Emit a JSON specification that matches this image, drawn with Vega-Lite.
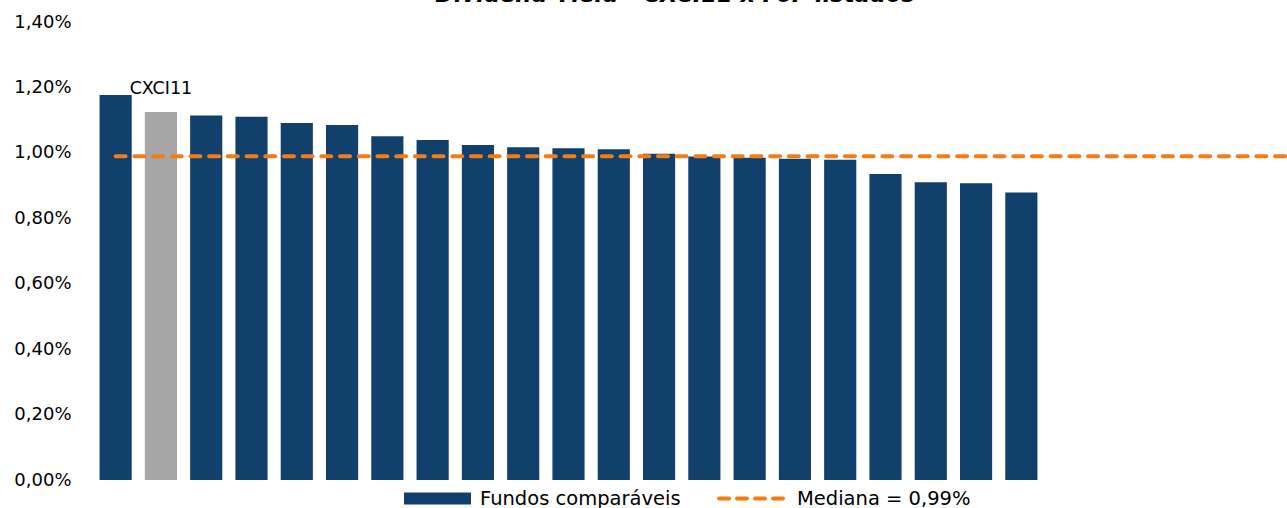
{
  "$schema": "https://vega.github.io/schema/vega-lite/v6.json",
  "autosize": "none",
  "width": 1194,
  "height": 458,
  "padding": {"left": 93, "top": 22, "right": 0, "bottom": 28},
  "background": "white",
  "config": {"view": {"stroke": null}, "font": "DejaVu Sans"},
  "title": {
    "text": "Dividend Yield - CXCI11 x FoF listados",
    "font": "DejaVu Sans",
    "fontSize": 22.5,
    "fontWeight": "bold",
    "fontStyle": "italic",
    "color": "#000000",
    "anchor": "middle",
    "baseline": "alphabetic",
    "offset": 0,
    "dy": 11,
    "dx": -15
  },
  "datasets": {
    "fundos": [
      {"fundo": "FoF 1", "tipo": "Fundos comparáveis", "dy": 1.177},
      {"fundo": "CXCI11", "tipo": "CXCI11", "dy": 1.125},
      {"fundo": "FoF 3", "tipo": "Fundos comparáveis", "dy": 1.114},
      {"fundo": "FoF 4", "tipo": "Fundos comparáveis", "dy": 1.110},
      {"fundo": "FoF 5", "tipo": "Fundos comparáveis", "dy": 1.091},
      {"fundo": "FoF 6", "tipo": "Fundos comparáveis", "dy": 1.085},
      {"fundo": "FoF 7", "tipo": "Fundos comparáveis", "dy": 1.051},
      {"fundo": "FoF 8", "tipo": "Fundos comparáveis", "dy": 1.039},
      {"fundo": "FoF 9", "tipo": "Fundos comparáveis", "dy": 1.024},
      {"fundo": "FoF 10", "tipo": "Fundos comparáveis", "dy": 1.017},
      {"fundo": "FoF 11", "tipo": "Fundos comparáveis", "dy": 1.014},
      {"fundo": "FoF 12", "tipo": "Fundos comparáveis", "dy": 1.011},
      {"fundo": "FoF 13", "tipo": "Fundos comparáveis", "dy": 0.997},
      {"fundo": "FoF 14", "tipo": "Fundos comparáveis", "dy": 0.989},
      {"fundo": "FoF 15", "tipo": "Fundos comparáveis", "dy": 0.985},
      {"fundo": "FoF 16", "tipo": "Fundos comparáveis", "dy": 0.982},
      {"fundo": "FoF 17", "tipo": "Fundos comparáveis", "dy": 0.979},
      {"fundo": "FoF 18", "tipo": "Fundos comparáveis", "dy": 0.935},
      {"fundo": "FoF 19", "tipo": "Fundos comparáveis", "dy": 0.910},
      {"fundo": "FoF 20", "tipo": "Fundos comparáveis", "dy": 0.907},
      {"fundo": "FoF 21", "tipo": "Fundos comparáveis", "dy": 0.879}
    ],
    "mediana": [
      {"fundo": "FoF 1", "serie": "Mediana = 0,99%", "mediana": 0.99}
    ]
  },
  "layer": [
    {
      "data": {"name": "fundos"},
      "mark": {"type": "bar"},
      "encoding": {
        "x": {
          "field": "fundo", "type": "nominal", "sort": null,
          "scale": {"range": [0, 951], "paddingInner": 0.29, "paddingOuter": 0.145},
          "axis": null
        },
        "y": {
          "field": "dy", "type": "quantitative",
          "scale": {"domain": [0, 1.4], "nice": false},
          "axis": {
            "values": [0, 0.2, 0.4, 0.6, 0.8, 1.0, 1.2, 1.4],
            "labelExpr": "replace(format(datum.value, '.2f'), '.', ',') + '%'",
            "title": null, "domain": false, "ticks": false, "grid": false,
            "labelPadding": 22, "labelFont": "DejaVu Sans", "labelFontSize": 18,
            "labelColor": "#000000"
          }
        },
        "color": {
          "field": "tipo", "type": "nominal",
          "scale": {"domain": ["Fundos comparáveis", "CXCI11"], "range": ["#11406C", "#A6A6A6"]},
          "legend": {
            "values": ["Fundos comparáveis"],
            "title": null,
            "orient": "none", "legendX": 311, "legendY": 443,
            "symbolType": "M-1,-0.18H1V0.18H-1Z",
            "symbolSize": 4489,
            "symbolStrokeWidth": 0,
            "symbolOpacity": 1,
            "labelFont": "DejaVu Sans", "labelFontSize": 19.5, "labelColor": "#000000",
            "labelOffset": 9, "labelLimit": 500, "padding": 0
          }
        }
      }
    },
    {
      "data": {"name": "fundos"},
      "transform": [{"filter": "datum.tipo === 'CXCI11'"}],
      "mark": {"type": "text", "baseline": "alphabetic", "align": "center", "dy": -18, "font": "DejaVu Sans", "fontSize": 17.5, "color": "#000000"},
      "encoding": {
        "x": {"field": "fundo", "type": "nominal", "sort": null},
        "y": {"field": "dy", "type": "quantitative"},
        "text": {"field": "fundo"}
      }
    },
    {
      "data": {"name": "mediana"},
      "mark": {"type": "rule", "strokeWidth": 4, "strokeDash": [10, 8.7], "strokeCap": "round"},
      "encoding": {
        "x": {"field": "fundo", "type": "nominal", "sort": null},
        "x2": {"value": "width"},
        "y": {"field": "mediana", "type": "quantitative"},
        "stroke": {
          "field": "serie", "type": "nominal",
          "scale": {"range": ["#F47C16"]},
          "legend": {
            "title": null,
            "orient": "none", "legendX": 624, "legendY": 440,
            "symbolType": "stroke",
            "symbolSize": 4761,
            "symbolStrokeWidth": 4,
            "symbolDash": [10, 8],
            "labelFont": "DejaVu Sans", "labelFontSize": 19.5, "labelColor": "#000000",
            "labelOffset": 7, "labelLimit": 500, "padding": 0,
            "encode": {"symbols": {"update": {"strokeCap": {"value": "round"}}}}
          }
        }
      }
    }
  ]
}
